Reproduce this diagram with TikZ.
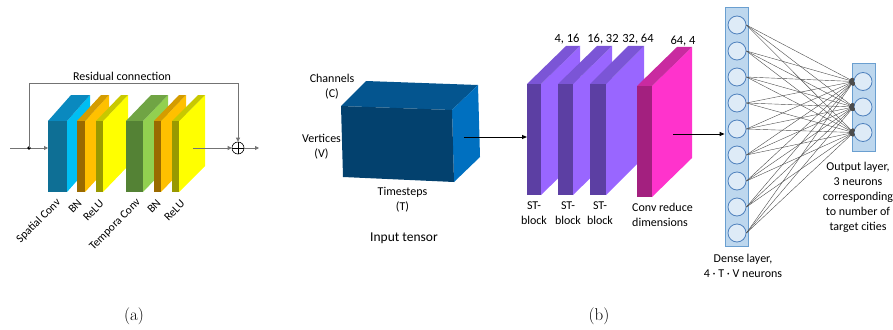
\documentclass[tikz,border=0pt]{standalone}
\usepackage{fontspec}
\newfontfamily\calfont{Carlito}
\usetikzlibrary{arrows.meta, positioning, calc}

% face colours: <name>front, <name>side, <name>top
\definecolor{spfront}{HTML}{0E6F95}
\definecolor{spside}{HTML}{00BEF2}
\definecolor{sptop}{HTML}{0A89BF}
\definecolor{bnfront}{HTML}{9A6A00}
\definecolor{bnside}{HTML}{FFC000}
\definecolor{bntop}{HTML}{D49C00}
\definecolor{rlfront}{HTML}{999900}
\definecolor{rlside}{HTML}{FFFF00}
\definecolor{rltop}{HTML}{C8C800}
\definecolor{tcfront}{HTML}{548235}
\definecolor{tcside}{HTML}{92D050}
\definecolor{tctop}{HTML}{70A444}
\definecolor{stfront}{HTML}{5C3FA3}
\definecolor{stside}{HTML}{9966FF}
\definecolor{sttop}{HTML}{7B55D6}
\definecolor{cvfront}{HTML}{A3207F}
\definecolor{cvside}{HTML}{FF33CC}
\definecolor{cvtop}{HTML}{C92AA0}
\definecolor{tnfront}{HTML}{03416E}
\definecolor{tntop}{HTML}{04558F}
\definecolor{tnside}{HTML}{0070C0}
\definecolor{lfill}{HTML}{BDD7EE}
\definecolor{lborder}{HTML}{6A9FD0}
\definecolor{nfill}{HTML}{DEEBF7}
\definecolor{nborder}{HTML}{4F81BD}

% slab: x, front width, y, height, dx, dy, colour name
\newcommand{\slab}[7]{%
  \fill[#7side] ({#1+#2},#3) -- ({#1+#2+#5},{#3-#6}) -- ({#1+#2+#5},{#3-#6+#4}) -- ({#1+#2},{#3+#4}) -- cycle;
  \fill[#7top] (#1,#3) -- ({#1+#5},{#3-#6}) -- ({#1+#2+#5},{#3-#6}) -- ({#1+#2},#3) -- cycle;
  \fill[#7front] (#1,#3) rectangle ({#1+#2},{#3+#4});
}

\begin{document}
\begin{tikzpicture}[x=1pt, y=-1pt, >=Stealth]
\tikzset{
    lbl/.style={font=\calfont\fontsize{12}{15}\selectfont, align=center, inner sep=0pt},
    rlbl/.style={lbl, font=\calfont\fontsize{11.5}{14}\selectfont, rotate=45, anchor=east},
    line/.style={-{Triangle[length=4pt,width=4pt]}, black!55, line width=0.8pt},
    arr/.style={-{Triangle[length=5pt,width=4pt]}, black, line width=1pt},
    layer/.style={rectangle, draw=lborder, fill=lfill, line width=0.8pt, inner sep=0pt},
    neuron/.style={circle, draw=nborder, fill=nfill, minimum size=18pt, inner sep=0pt, line width=0.8pt},
    conn/.style={-{Circle[length=4pt,width=6pt]}, black!70, line width=0.4pt}
}
\useasboundingbox (0,0) rectangle (893,329);

% --- (a) ST-block ---
\slab{48}{19}{121}{71}{23}{26}{sp}
\slab{77}{8}{121}{71}{24}{26}{bn}
\slab{96}{7}{121}{71}{25}{26}{rl}
\slab{126}{17}{121}{71}{25}{26}{tc}
\slab{154}{7}{121}{71}{25}{26}{bn}
\slab{172}{7}{121}{71}{26}{26}{rl}

\node (res) at (122,76) [lbl] {Residual connection};
\node (sum) at (238,148) [circle, draw, minimum size=12pt, inner sep=0pt, line width=0.6pt] {};
\draw[line width=0.6pt] (sum.north) -- (sum.south) (sum.west) -- (sum.east);

\coordinate (in) at (10,148);
\coordinate (split) at (29,148);
\coordinate (rtop) at (29,83);
\coordinate (sc) at (48,148);
\coordinate (yout) at (193,148);
\coordinate (out) at (259,148);

\draw[line] (in) -- (sc);
\fill (split) circle (1.8);
\draw[line] (split) -- (rtop) -| (sum.north);
\draw[line] (yout) -- (sum.west);
\draw[line] (sum.east) -- (out);

\node (l1) at (59,201) [rlbl] {Spatial Conv};
\node (l2) at (80,201) [rlbl] {BN};
\node (l3) at (102,202) [rlbl] {ReLU};
\node (l4) at (139,201) [rlbl] {Tempora Conv};
\node (l5) at (159,201) [rlbl] {BN};
\node (l6) at (183,202) [rlbl] {ReLU};

% --- (b) whole network ---
% input tensor
\fill[tntop] (341,106) -- (366,81) -- (478,85) -- (452,110) -- cycle;
\fill[tnside] (452,110) -- (478,85) -- (480,157) -- (454,182) -- cycle;
\fill[tnfront] (341,106) -- (452,110) -- (454,182) -- (343,177) -- cycle;

\node (chan) at (332,86.5) [lbl] {Channels\\(C)};
\node (vert) at (321.5,146.5) [lbl] {Vertices\\(V)};
\node (time) at (402.5,199.5) [lbl] {Timesteps\\(T)};
\node (intensor) at (404,238) [lbl, font=\calfont\fontsize{13.5}{16}\selectfont] {Input tensor};

% blocks
\slab{527}{14}{84}{111}{39}{38}{st}
\slab{558}{15}{84}{111}{39}{38}{st}
\slab{590}{16}{84}{111}{38}{38}{st}
\slab{637}{15}{86}{111}{40}{39}{cv}

\node (c1) at (567,39) [lbl, font=\calfont\fontsize{12.5}{14}\selectfont] {4, 16};
\node (c2) at (603,39) [lbl, font=\calfont\fontsize{12.5}{14}\selectfont] {16, 32};
\node (c3) at (638,39) [lbl, font=\calfont\fontsize{12.5}{14}\selectfont] {32, 64};
\node (c4) at (683,41) [lbl, font=\calfont\fontsize{12.5}{14}\selectfont] {64, 4};

\node (st1) at (534,213.5) [lbl] {ST-\\block};
\node (st2) at (568,213.5) [lbl] {ST-\\block};
\node (st3) at (600,213.5) [lbl] {ST-\\block};
\node (cvl) at (632,215) [lbl, align=left, anchor=west] {Conv reduce\\dimensions};

\coordinate (tnout) at (464,137);
\coordinate (stin) at (527,137);
\draw[arr] (tnout) -- (stin);

% dense and output layers
\node (dense) at (736.5,126.5) [layer, minimum width=23pt, minimum height=239pt] {};
\node (outl) at (863.5,107) [layer, minimum width=23pt, minimum height=88pt] {};
\foreach \i in {1,...,9}
    \node (d\i) at (737,{25+26*(\i-1)}) [neuron] {};
\foreach \j/\y in {1/81.5, 2/107, 3/132.5}
    \node (o\j) at (863,\y) [neuron] {};
\foreach \i in {1,...,9}
    \foreach \j in {1,2,3}
        \draw[conn] (d\i.east) -- (o\j.west);

\coordinate (cvout) at (673,134);
\draw[arr] (cvout) -- (cvout -| dense.west);

\node (densel) at (743,265.5) [lbl] {Dense layer,\\4 · T · V neurons};
\node (outlbl) at (858,197) [lbl] {Output layer,\\3 neurons\\corresponding\\to number of\\target cities};

% captions
\node (capa) at (134,316) [font=\fontsize{17}{20}\selectfont] {(a)};
\node (capb) at (599,316) [font=\fontsize{17}{20}\selectfont] {(b)};

\end{tikzpicture}
\end{document}
